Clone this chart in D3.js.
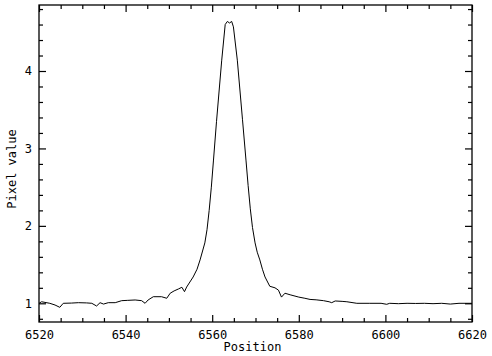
<!DOCTYPE html>
<html><head><meta charset="utf-8">
<script src="https://cdn.jsdelivr.net/npm/d3@7"></script>
<style>
body{margin:0;background:#fff;}
svg text{font-family:"DejaVu Sans Mono",monospace;font-size:12px;fill:#000;}
</style></head>
<body><svg id="c" width="492" height="356"></svg>
<script>
const position = [6520,6520.6,6522.5,6523.7,6524.8,6525.6,6527.5,6529.1,6531,6532.2,6533.3,6534.1,6534.9,6536,6537.6,6539.1,6540.5,6542.2,6543.7,6544.5,6545.2,6546.4,6548.3,6549.5,6550.3,6551.2,6552.2,6553,6553.6,6554.1,6555.6,6556.5,6557.2,6558.3,6558.8,6559.3,6559.8,6560.3,6561,6562.2,6563,6563.5,6564,6564.5,6564.9,6565.8,6567,6567.8,6568.3,6568.8,6569.3,6569.9,6570.4,6571,6571.6,6572.2,6573.3,6574.5,6575.3,6576,6576.8,6578,6580,6581.4,6582.6,6584,6585.7,6587,6587.6,6588.4,6590,6591.1,6593.4,6596.4,6599,6600.3,6601,6603,6605,6607,6609,6611,6613,6615,6617,6620];
const pixelValue = [1.0,1.02,1.0,0.978,0.948,1.0,1.003,1.008,1.005,1.0,0.965,1.008,0.99,1.008,1.008,1.034,1.038,1.043,1.034,1.0,1.043,1.085,1.085,1.065,1.13,1.16,1.185,1.207,1.15,1.21,1.34,1.44,1.56,1.78,1.95,2.2,2.5,2.85,3.35,4.14,4.6,4.64,4.62,4.64,4.57,4.14,3.37,2.85,2.52,2.22,1.98,1.78,1.66,1.56,1.44,1.34,1.22,1.2,1.17,1.08,1.13,1.11,1.08,1.065,1.05,1.045,1.034,1.02,1.008,1.03,1.025,1.02,1.0,1.0,1.0,0.987,1.0,0.995,1.0,0.998,1.0,0.995,1.0,0.99,1.0,1.0];
const xMajor = [6520,6540,6560,6580,6600,6620];
const yMajor = [1,2,3,4];
const xLabel = "Position", yLabel = "Pixel value";

const svg = d3.select("#c");
const L=39,R=472,T=5,B=322;
const x = d3.scaleLinear().domain([6520,6620]).range([L,R]);
const y = d3.scaleLinear().domain([1,4]).range([303.3,71]);
y.domain([y.invert(B), y.invert(T)]).range([B,T]);
const xMinor = d3.range(6520,6620.01,5).filter(v=>!xMajor.includes(v));
const yMinor = d3.range(0.8,4.81,0.2).map(v=>+v.toFixed(1)).filter(v=>!yMajor.includes(v));

function ax(gen, tv, size, tr, labels){
  const g = svg.append("g").attr("transform",tr)
    .call(gen.tickValues(tv).tickSize(size).tickSizeOuter(0).tickFormat(labels?d3.format("d"):""));
  g.select(".domain").remove();
  g.selectAll(".tick line").attr("stroke","#000").attr("stroke-width",1.2);
  return g;
}
const bx = ax(d3.axisBottom(x), xMajor, -7, `translate(0,${B})`, true);
bx.selectAll("text").attr("dy",null).attr("y",17).style("font-family","DejaVu Sans Mono").style("font-size","12px");
ax(d3.axisBottom(x), xMinor, -4, `translate(0,${B})`, false);
ax(d3.axisTop(x), xMajor, -7, `translate(0,${T})`, false);
ax(d3.axisTop(x), xMinor, -4, `translate(0,${T})`, false);
const ly = ax(d3.axisLeft(y), yMajor, -7, `translate(${L},0)`, true);
ly.selectAll("text").attr("x",-7).style("font-family","DejaVu Sans Mono").style("font-size","12px");
ax(d3.axisLeft(y), yMinor, -4, `translate(${L},0)`, false);
ax(d3.axisRight(y), yMajor, -7, `translate(${R},0)`, false);
ax(d3.axisRight(y), yMinor, -4, `translate(${R},0)`, false);

svg.append("rect").attr("x",L).attr("y",T).attr("width",R-L).attr("height",B-T)
  .attr("fill","none").attr("stroke","#000").attr("stroke-width",1.3);

const line = d3.line().x((d,i)=>x(position[i])).y(d=>y(d));
svg.append("path").attr("d",line(pixelValue)).attr("fill","none").attr("stroke","#000").attr("stroke-width",1);

svg.append("text").attr("x",(L+R)/2-3).attr("y",351).attr("text-anchor","middle").text(xLabel);
svg.append("text").attr("transform",`translate(16,${169}) rotate(-90)`).attr("text-anchor","middle").text(yLabel);
</script></body></html>
